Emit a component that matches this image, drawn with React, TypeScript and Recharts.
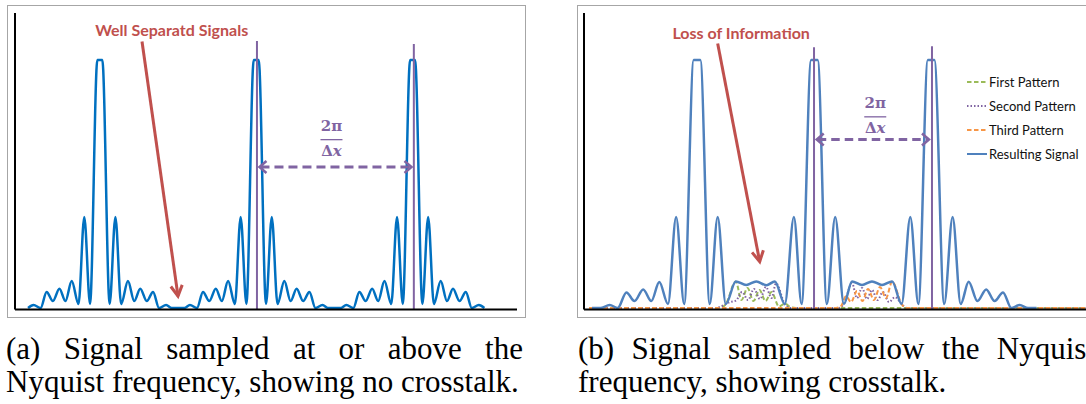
import React from 'react';
import { LineChart, Line, XAxis, YAxis, ReferenceLine, Legend } from 'recharts';

// ---------- Panel (a): sampled at / above Nyquist ----------
const freqA = [
  2.6, 3.7, 5.1, 6.3, 7.55, 8.85, 10.05, 11.3, 12.65, 13.8, 14.95, 16.4, 16.9, 17.4, 18.85, 20.0, 21.15, 22.5, 23.75, 24.95, 26.25, 27.5, 28.7, 30.1, 31.2,
  33.75, 34.85, 36.25, 37.45, 38.7, 40.0, 41.2, 42.45, 43.8, 44.95, 46.1, 47.55, 48.05, 48.55, 50.0, 51.15, 52.3, 53.65, 54.9, 56.1, 57.4, 58.65, 59.85, 61.25, 62.35,
  64.9, 66.0, 67.4, 68.6, 69.85, 71.15, 72.35, 73.6, 74.95, 76.1, 77.25, 78.7, 79.2, 79.7, 81.15, 82.3, 83.45, 84.8, 86.05, 87.25, 88.55, 89.8, 91.0, 92.4, 93.5,
];
const signalA = [
  0, 0.012, 0, 0.065, 0.028, 0.078, 0.028, 0.109, 0.016, 0.367, 0.016, 1, 1, 1, 0.016, 0.367, 0.016, 0.109, 0.028, 0.078, 0.028, 0.065, 0, 0.012, 0,
  0, 0.012, 0, 0.065, 0.028, 0.078, 0.028, 0.109, 0.016, 0.367, 0.016, 1, 1, 1, 0.016, 0.367, 0.016, 0.109, 0.028, 0.078, 0.028, 0.065, 0, 0.012, 0,
  0, 0.012, 0, 0.065, 0.028, 0.078, 0.028, 0.109, 0.016, 0.367, 0.016, 1, 1, 1, 0.016, 0.367, 0.016, 0.109, 0.028, 0.078, 0.028, 0.065, 0, 0.012, 0,
];
const samplesA = [48.2, 79.45];
const sampleTopsA = [1.077, 1.065];
const spacingA = { from: 48.5, to: 79.18, level: 0.569 };
const noteA = { from: [25.3, 1.075], to: [32.47, 0.048], text: 'Well Separatd Signals' };

// ---------- Panel (b): sampled below Nyquist ----------
const freqB = [
  1.59, 3.25, 5.12, 6.71, 8.45, 10.06, 11.79, 13.41, 15.0, 16.73, 18.35, 19.96, 21.85, 22.51, 23.17, 25.04, 26.63, 28.25,
  30.24, 32.31, 34.32, 36.33, 38.01, 40.0, 41.81, 43.35, 45.24, 45.9, 46.55, 48.37, 50.04, 51.77,
  53.39, 55.38, 57.37, 59.36, 61.39, 63.27, 65.0, 66.61, 68.49, 69.14, 69.8, 71.75, 73.43, 75.04,
  76.63, 78.37, 80.12, 81.79, 83.47, 85.12, 86.79, 88.45, 90.14,
];
const resultB = [
  0, 0, 0.012, 0, 0.063, 0.028, 0.075, 0.028, 0.105, 0.016, 0.367, 0.016, 1, 1, 1, 0.016, 0.367, 0.016,
  0.107, 0.093, 0.107, 0.092, 0.107, 0.016, 0.367, 0.016, 1, 1, 1, 0.016, 0.367, 0.016,
  0.107, 0.093, 0.107, 0.093, 0.107, 0.016, 0.367, 0.016, 1, 1, 1, 0.016, 0.367, 0.016,
  0.106, 0.028, 0.075, 0.028, 0.063, 0, 0.012, 0, 0,
];
const firstFreqB = [1.0, 27.09, 28.25, 30.24, 31.37, 32.57, 33.76, 34.96, 36.16, 37.35, 38.84, 40.04, 41.04, 42.23, 100];
const firstB = [0, 0, 0.016, 0.107, 0.032, 0.081, 0.028, 0.073, 0.028, 0.065, 0.006, 0.018, 0.004, 0, 0];
const secondFreqB = [
  1.0, 26.29, 27.89, 29.08, 30.28, 31.47, 32.67, 33.86, 35.06, 36.25, 37.35, 38.25, 40.0, 41.04,
  50.6, 51.77, 53.39, 54.38, 55.38, 56.37, 57.37, 58.47, 59.56, 60.76, 61.95, 63.27, 64.34, 100,
];
const secondB = [
  0, 0, 0.012, 0.024, 0.03, 0.065, 0.032, 0.077, 0.036, 0.085, 0.04, 0.1, 0.016, 0,
  0, 0.016, 0.1, 0.04, 0.081, 0.036, 0.073, 0.032, 0.065, 0.024, 0.044, 0.016, 0, 0,
];
const thirdFreqB = [1.0, 50.2, 51.2, 52.19, 53.19, 54.38, 55.48, 56.57, 57.77, 58.96, 60.16, 61.39, 63.27, 64.14, 100];
const thirdB = [0, 0, 0.008, 0.048, 0.024, 0.069, 0.028, 0.077, 0.032, 0.085, 0.04, 0.107, 0.016, 0, 0];
const samplesB = [45.82, 69.32];
const sampleTopsB = [1.052, 1.056];
const spacingB = { from: 46.16, to: 68.92, level: 0.68 };
const noteB = { from: [26.63, 1.067], to: [35.0, 0.187], text: 'Loss of Information' };

const seriesNames = ['First Pattern', 'Second Pattern', 'Third Pattern', 'Resulting Signal'];

const captionA = ['(a) Signal sampled at or above the', 'Nyquist frequency, showing no crosstalk.'];
const captionB = ['(b) Signal sampled below the Nyquist', 'frequency, showing crosstalk.'];

// ---------- helpers ----------
const zip = (xs: number[], ys: number[]) => xs.map((x, i) => ({ x, y: ys[i] }));
const X_DOMAIN: [number, number] = [0, 100];
const Y_DOMAIN: [number, number] = [-0.006, 1.19];
const PURPLE = '#8064A2';
const RED = '#C0504D';

const RedArrow = (p: any) => {
  const { x1, y1, x2, y2, text, dx, dy } = p;
  const ang = Math.atan2(y2 - y1, x2 - x1);
  const L = 12;
  const s = 0.5;
  const a1x = x2 - L * Math.cos(ang - s);
  const a1y = y2 - L * Math.sin(ang - s);
  const a2x = x2 - L * Math.cos(ang + s);
  const a2y = y2 - L * Math.sin(ang + s);
  return (
    <g>
      <line x1={x1} y1={y1} x2={x2} y2={y2} stroke={RED} strokeWidth={3} />
      <polyline points={`${a1x},${a1y} ${x2},${y2} ${a2x},${a2y}`} fill="none" stroke={RED} strokeWidth={3} />
      <text x={x1 + dx} y={y1 + dy} textAnchor="middle" fontFamily="Lato" fontWeight={700} fontSize={16} fill={RED}>
        {text}
      </text>
    </g>
  );
};

const DoubleArrow = (p: any) => {
  const { x1, y1, x2, y2, shift, numDy, barDy, denDy, dash } = p;
  const mid = (x1 + x2) / 2 + shift;
  return (
    <g>
      <line x1={x1 + 2} y1={y1} x2={x2 - 2} y2={y2} stroke={PURPLE} strokeWidth={3} strokeDasharray={dash} />
      <polyline points={`${x1 + 8},${y1 - 6} ${x1 + 1},${y1} ${x1 + 8},${y1 + 6}`} fill="none" stroke={PURPLE} strokeWidth={2.5} />
      <polyline points={`${x2 - 8},${y2 - 6} ${x2 - 1},${y2} ${x2 - 8},${y2 + 6}`} fill="none" stroke={PURPLE} strokeWidth={2.5} />
      <text x={mid} y={y1 + numDy} textAnchor="middle" fontFamily="DejaVu Serif" fontWeight={700} fontSize={15} fill={PURPLE}>
        2π
      </text>
      <line x1={mid - 11} y1={y1 + barDy} x2={mid + 11} y2={y1 + barDy} stroke={PURPLE} strokeWidth={1.3} />
      <text x={mid} y={y1 + denDy} textAnchor="middle" fontFamily="DejaVu Serif" fontWeight={700} fontSize={15} fill={PURPLE}>
        Δ<tspan fontStyle="italic">x</tspan>
      </text>
    </g>
  );
};

const renderLegend = (props: any) => {
  const payload = [...(props.payload || [])].sort(
    (a: any, b: any) => seriesNames.indexOf(a.value) - seriesNames.indexOf(b.value),
  );
  return (
    <div style={{ fontFamily: 'Lato', fontSize: 13, color: '#111' }}>
      {payload.map((e: any) => (
        <div key={e.value} style={{ height: 24, display: 'flex', alignItems: 'center' }}>
          <svg width={21} height={6} style={{ display: 'block' }}>
            <line x1={0} y1={3} x2={20} y2={3} stroke={e.color} strokeWidth={2} strokeDasharray={e.payload?.strokeDasharray} />
          </svg>
          <span style={{ marginLeft: 1, lineHeight: '16px' }}>{e.value}</span>
        </div>
      ))}
    </div>
  );
};

const captionStyle: React.CSSProperties = {
  position: 'absolute',
  fontFamily: '"Liberation Serif", serif',
  fontSize: 31,
  lineHeight: '33px',
  color: '#000',
  whiteSpace: 'nowrap',
};

const axisLine = { stroke: '#000', strokeWidth: 2 };

export default function App() {
  return (
    <div style={{ position: 'absolute', left: 0, top: 0, width: 1086, height: 404, overflow: 'hidden', background: '#fff' }}>
      <div style={{ position: 'absolute', left: 7, top: 5, width: 519, height: 313, border: '1px solid #A6A6A6', boxSizing: 'border-box' }} />
      <div style={{ position: 'absolute', left: 577, top: 5, width: 600, height: 313, border: '1px solid #A6A6A6', boxSizing: 'border-box' }} />

      <div style={{ position: 'absolute', left: 0, top: 0 }}>
        <LineChart width={540} height={330} margin={{ top: 13, right: 23, bottom: 19.5, left: 14 }}>
          <XAxis dataKey="x" type="number" domain={X_DOMAIN} height={1} tick={false} tickLine={false} axisLine={axisLine} allowDataOverflow />
          <YAxis type="number" domain={Y_DOMAIN} width={1} tick={false} tickLine={false} axisLine={axisLine} allowDataOverflow />
          <Line data={zip(freqA, signalA)} dataKey="y" type="monotone" stroke="#0070C0" strokeWidth={2.5} dot={false} isAnimationActive={false} />
          {samplesA.map((x, i) => (
            <ReferenceLine key={i} segment={[{ x, y: sampleTopsA[i] }, { x, y: Y_DOMAIN[0] }]} stroke={PURPLE} strokeWidth={2} />
          ))}
          <ReferenceLine
            segment={[{ x: spacingA.from, y: spacingA.level }, { x: spacingA.to, y: spacingA.level }]}
            shape={(p: any) => <DoubleArrow {...p} shift={-4} numDy={-35.7} barDy={-27.3} denDy={-10.7} dash="9 5" />}
          />
          <ReferenceLine
            segment={[{ x: noteA.from[0], y: noteA.from[1] }, { x: noteA.to[0], y: noteA.to[1] }]}
            shape={(p: any) => <RedArrow {...p} text={noteA.text} dx={29.7} dy={-6} />}
          />
        </LineChart>
      </div>

      <div style={{ position: 'absolute', left: 560, top: 0 }}>
        <LineChart width={526} height={330} margin={{ top: 13, right: 0, bottom: 19.5, left: 23 }}>
          <XAxis dataKey="x" type="number" domain={X_DOMAIN} height={1} tick={false} tickLine={false} axisLine={axisLine} allowDataOverflow />
          <YAxis type="number" domain={Y_DOMAIN} width={1} tick={false} tickLine={false} axisLine={axisLine} allowDataOverflow />
          <Line name={seriesNames[0]} data={zip(firstFreqB, firstB)} dataKey="y" type="monotone" stroke="#9BBB59" strokeWidth={2} strokeDasharray="4.5 2.5" dot={false} isAnimationActive={false} legendType="plainline" />
          <Line name={seriesNames[1]} data={zip(secondFreqB, secondB)} dataKey="y" type="monotone" stroke={PURPLE} strokeWidth={2} strokeDasharray="1.5 2" dot={false} isAnimationActive={false} legendType="plainline" />
          <Line name={seriesNames[2]} data={zip(thirdFreqB, thirdB)} dataKey="y" type="monotone" stroke="#F79646" strokeWidth={2} strokeDasharray="4.5 2.5" dot={false} isAnimationActive={false} legendType="plainline" />
          <Line name={seriesNames[3]} data={zip(freqB, resultB)} dataKey="y" type="monotone" stroke="#4F81BD" strokeWidth={2.5} dot={false} isAnimationActive={false} legendType="plainline" />
          {samplesB.map((x, i) => (
            <ReferenceLine key={i} segment={[{ x, y: sampleTopsB[i] }, { x, y: Y_DOMAIN[0] }]} stroke={PURPLE} strokeWidth={2} />
          ))}
          <ReferenceLine
            segment={[{ x: spacingB.from, y: spacingB.level }, { x: spacingB.to, y: spacingB.level }]}
            shape={(p: any) => <DoubleArrow {...p} shift={2.4} numDy={-31} barDy={-22.6} denDy={-6.6} dash="8.5 5" />}
          />
          <ReferenceLine
            segment={[{ x: noteB.from[0], y: noteB.from[1] }, { x: noteB.to[0], y: noteB.to[1] }]}
            shape={(p: any) => <RedArrow {...p} text={noteB.text} dx={23.5} dy={-4} />}
          />
          <Legend layout="vertical" align="center" verticalAlign="middle" content={renderLegend} wrapperStyle={{ left: 407, top: 70, width: 125 }} />
        </LineChart>
      </div>

      <div style={{ ...captionStyle, left: 6, top: 332, width: 517 }}>
        <div style={{ textAlign: 'justify', textAlignLast: 'justify', whiteSpace: 'normal' }}>{captionA[0]}</div>
        <div>{captionA[1]}</div>
      </div>
      <div style={{ ...captionStyle, left: 578, top: 332, width: 517 }}>
        <div style={{ textAlign: 'justify', textAlignLast: 'justify', whiteSpace: 'normal' }}>{captionB[0]}</div>
        <div>{captionB[1]}</div>
      </div>
    </div>
  );
}
